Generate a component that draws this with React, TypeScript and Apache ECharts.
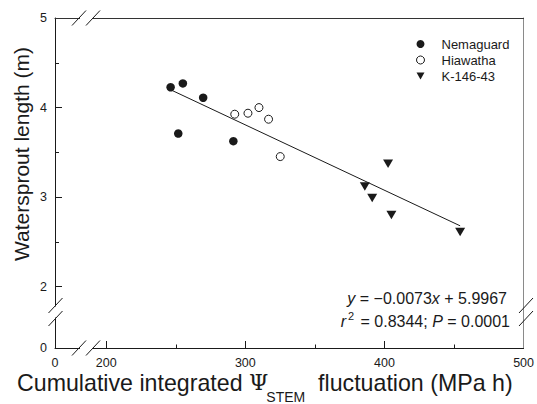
import React, { useEffect, useRef } from "react";
import * as echarts from "echarts";

// ---- data ----
const seriesNames = ["Nemaguard", "Hiawatha", "K-146-43"];
const nemaguard: number[][] = [
  [246.3, 4.227],
  [255.1, 4.27],
  [269.7, 4.11],
  [251.8, 3.71],
  [291.4, 3.625],
];
const hiawatha: number[][] = [
  [292.4, 3.926],
  [301.9, 3.937],
  [309.8, 4.0],
  [316.7, 3.87],
  [325.1, 3.453],
];
const k14643: number[][] = [
  [402.6, 3.372],
  [385.9, 3.12],
  [391.2, 2.99],
  [405.0, 2.8],
  [454.4, 2.61],
];
const fitLine: number[][] = [
  [246.3, 4.199],
  [454.4, 2.68],
];
const xMajorTicks = [200, 300, 400];
const xMinorTicks = [250, 350, 450];
const xLabelValues = [200, 300, 400, 500];
const yMajorTicks = [2, 3, 4];
const yMinorTicks = [2.5, 3.5, 4.5];
const yLabelValues = [2, 3, 4, 5];
const xOriginLabel = "0";
const yOriginLabel = "0";
const equationLine1 = "{i|y}{n| = −0.0073}{i|x}{n| + 5.9967}";
const equationLine2 = "{i|r}{sup|2}{n| = 0.8344; }{i|P}{n| = 0.0001}";
const yTitle = "Watersprout length (m)";
const xTitleParts = ["Cumulative integrated ", "Ψ", "STEM", "  fluctuation (MPa h)"];

// axis extents (the broken part of each axis starts at its "0")
const X_MIN = 163.2;
const X_MAX = 500;
const Y_MIN = 1.316;
const Y_MAX = 5;

const FONT = "'Liberation Sans', Arial, Helvetica, sans-serif";
const SERIF = "'DejaVu Serif', serif";
const INK = "#1a1a1a";
const TRI = "path://M0,0L10,0L5,8.66Z";

const G_LEFT = 55;
const G_RIGHT = 526;
const G_TOP = 18;
const G_BOTTOM = 348;

function measure(text: string, size: number, family: string): number {
  const t = new echarts.graphic.Text({ style: { text, fontSize: size, fontFamily: family } });
  return t.getBoundingRect().width;
}

function App() {
  const ref = useRef<HTMLDivElement>(null);

  useEffect(() => {
    if (!ref.current) return;
    const chart = echarts.init(ref.current, undefined, { renderer: "svg" });

    const fmtX = (v: number) => (Math.abs(v - X_MIN) < 1e-6 ? xOriginLabel : String(v));
    const fmtY = (v: number) => (Math.abs(v - Y_MIN) < 1e-6 ? yOriginLabel : String(v));

    const labelStyle = { fontFamily: FONT, fontSize: 12.5, color: INK };

    const baseX = {
      type: "value",
      min: X_MIN,
      max: X_MAX,
      splitLine: { show: false },
    };
    const baseY = {
      type: "value",
      min: Y_MIN,
      max: Y_MAX,
      splitLine: { show: false },
    };

    const breakLines: any[] = [];
    const gapRects: any[] = [];
    const slash = (cx: number, cy: number, dx: number, dy: number) => ({
      type: "line",
      z: 101,
      shape: { x1: cx - dx, y1: cy + dy, x2: cx + dx, y2: cy - dy },
      style: { stroke: INK, lineWidth: 1 },
    });
    [G_TOP, G_BOTTOM].forEach((y) => {
      gapRects.push({
        type: "rect",
        z: 100,
        shape: { x: 80, y: y - 2, width: 12, height: 4 },
        style: { fill: "#fff" },
      });
      breakLines.push(slash(79, y, 7, 7.5));
      breakLines.push(slash(93, y, 7, 7.5));
    });
    [G_LEFT + 0.5, G_RIGHT].forEach((x) => {
      gapRects.push({
        type: "rect",
        z: 100,
        shape: { x: x - 2, y: 306.5, width: 4, height: 11 },
        style: { fill: "#fff" },
      });
      breakLines.push(slash(x, 305.5, 7, 7.5));
      breakLines.push(slash(x, 318.5, 7, 7.5));
    });

    // x-axis title, pieced together so the subscript sits low
    const mainSize = 23.2;
    const psiSize = 22;
    const subSize = 14;
    const titleY = 382.5;
    let tx = 17;
    const xTitle: any[] = [];
    const pieces = [
      { text: xTitleParts[0], size: mainSize, family: FONT, dy: 0, dx: 0 },
      { text: xTitleParts[1], size: psiSize, family: SERIF, dy: 0, dx: 0 },
      { text: xTitleParts[2], size: subSize, family: FONT, dy: 14, dx: -2 },
      { text: xTitleParts[3], size: mainSize, family: FONT, dy: 0, dx: 0 },
    ];
    pieces.forEach((p) => {
      tx += p.dx;
      xTitle.push({
        type: "text",
        z: 102,
        x: tx,
        y: titleY + p.dy,
        style: {
          text: p.text,
          align: "left",
          verticalAlign: "middle",
          fontFamily: p.family,
          fontSize: p.size,
          fill: INK,
        },
      });
      tx += measure(p.text, p.size, p.family);
    });

    const option: any = {
      animation: false,
      backgroundColor: "#fff",
      grid: {
        left: G_LEFT,
        right: 537 - G_RIGHT,
        top: G_TOP,
        bottom: 404 - G_BOTTOM,
        containLabel: false,
      },
      legend: {
        orient: "vertical",
        left: 416,
        top: 37.5,
        padding: 0,
        itemWidth: 8,
        itemHeight: 8,
        itemGap: 3,
        selectedMode: false,
        textStyle: { fontFamily: FONT, fontSize: 13, color: INK, padding: [0, 0, 0, 12] },
        data: [
          { name: seriesNames[0], icon: "circle", itemStyle: { color: INK, borderWidth: 0 } },
          {
            name: seriesNames[1],
            icon: "circle",
            itemStyle: { color: "#fff", borderColor: INK, borderWidth: 1 },
          },
          { name: seriesNames[2], icon: TRI, itemStyle: { color: INK, borderWidth: 0 } },
        ],
      },
      xAxis: [
        {
          ...baseX,
          position: "bottom",
          axisLine: { show: true, onZero: false, lineStyle: { color: INK, width: 1 } },
          axisTick: {
            show: true,
            inside: true,
            length: 7,
            customValues: xMajorTicks,
            lineStyle: { color: INK },
          },
          axisLabel: {
            show: true,
            margin: 8.5,
            customValues: [X_MIN, ...xLabelValues],
            formatter: fmtX,
            showMinLabel: true,
            showMaxLabel: true,
            ...labelStyle,
          },
        },
        {
          ...baseX,
          position: "bottom",
          axisLine: { show: false, onZero: false },
          axisTick: {
            show: true,
            inside: true,
            length: 3.5,
            customValues: xMinorTicks,
            lineStyle: { color: INK },
          },
          axisLabel: { show: false },
        },
        {
          ...baseX,
          position: "top",
          axisLine: { show: true, onZero: false, lineStyle: { color: "#333", width: 1 } },
          axisTick: { show: false },
          axisLabel: { show: false },
        },
      ],
      yAxis: [
        {
          ...baseY,
          position: "left",
          axisLine: { show: true, onZero: false, lineStyle: { color: INK, width: 1 } },
          axisTick: {
            show: true,
            inside: true,
            length: 7,
            customValues: yMajorTicks,
            lineStyle: { color: INK },
          },
          axisLabel: {
            show: true,
            margin: 8,
            customValues: [Y_MIN, ...yLabelValues],
            formatter: fmtY,
            showMinLabel: true,
            showMaxLabel: true,
            ...labelStyle,
          },
        },
        {
          ...baseY,
          position: "left",
          axisLine: { show: false, onZero: false },
          axisTick: {
            show: true,
            inside: true,
            length: 4,
            customValues: yMinorTicks,
            lineStyle: { color: INK },
          },
          axisLabel: { show: false },
        },
        {
          ...baseY,
          position: "right",
          axisLine: { show: true, onZero: false, lineStyle: { color: "#8a8a8a", width: 1 } },
          axisTick: { show: false },
          axisLabel: { show: false },
        },
      ],
      series: [
        {
          name: "fit",
          type: "line",
          data: fitLine,
          symbol: "none",
          lineStyle: { color: INK, width: 1 },
          z: 1,
          silent: true,
        },
        {
          name: seriesNames[0],
          type: "scatter",
          data: nemaguard,
          symbol: "circle",
          symbolSize: 8.5,
          itemStyle: { color: INK, opacity: 1 },
          z: 3,
        },
        {
          name: seriesNames[1],
          type: "scatter",
          data: hiawatha,
          symbol: "circle",
          symbolSize: 8,
          itemStyle: { color: "#fff", borderColor: INK, borderWidth: 1, opacity: 1 },
          z: 3,
        },
        {
          name: seriesNames[2],
          type: "scatter",
          data: k14643,
          symbol: TRI,
          symbolSize: [10, 8.5],
          itemStyle: { color: INK, opacity: 1 },
          z: 3,
        },
      ],
      graphic: [
        ...gapRects,
        ...breakLines,
        {
          type: "text",
          z: 102,
          x: 507,
          y: 298,
          style: {
            text: equationLine1,
            align: "right",
            verticalAlign: "middle",
            fill: INK,
            rich: {
              n: { fontFamily: FONT, fontSize: 16, fill: INK },
              i: { fontFamily: FONT, fontSize: 16, fontStyle: "italic", fill: INK },
            },
          },
        },
        {
          type: "text",
          z: 102,
          x: 510,
          y: 321,
          style: {
            text: equationLine2,
            align: "right",
            verticalAlign: "middle",
            fill: INK,
            rich: {
              n: { fontFamily: FONT, fontSize: 16, fill: INK },
              i: { fontFamily: FONT, fontSize: 16, fontStyle: "italic", fill: INK },
              sup: { fontFamily: FONT, fontSize: 11, fill: INK, padding: [0, 2, 10, 2] },
            },
          },
        },
        {
          type: "text",
          z: 102,
          x: 21,
          y: 154,
          rotation: Math.PI / 2,
          style: {
            text: yTitle,
            align: "center",
            verticalAlign: "middle",
            fontFamily: FONT,
            fontSize: 21,
            fill: INK,
          },
        },
        ...xTitle,
      ],
    };

    chart.setOption(option);
    return () => chart.dispose();
  }, []);

  return (
    <div
      ref={ref}
      style={{ position: "fixed", left: 0, top: 0, width: 537, height: 404, background: "#fff" }}
    />
  );
}

export default App;
